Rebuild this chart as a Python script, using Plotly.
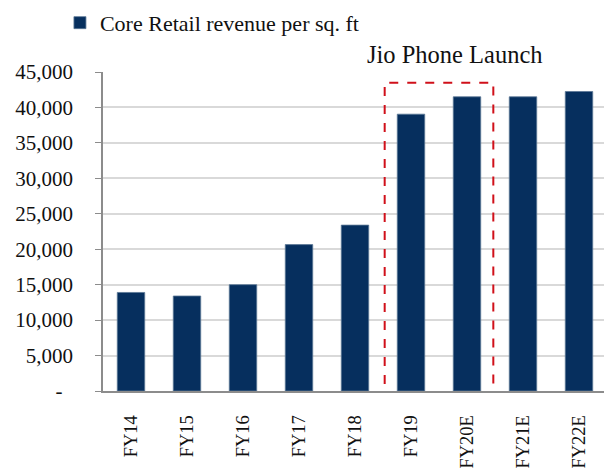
import plotly.graph_objects as go

categories = ["FY14", "FY15", "FY16", "FY17", "FY18", "FY19", "FY20E", "FY21E", "FY22E"]
revenue_per_sqft = [13900, 13400, 15000, 20650, 23400, 39050, 41500, 41500, 42250]
series_name = "Core Retail revenue per sq. ft"
annotation_text = "Jio Phone Launch"
y_tickvals = [0, 5000, 10000, 15000, 20000, 25000, 30000, 35000, 40000, 45000]
y_ticktext = ["-\u00a0\u00a0", "5,000", "10,000", "15,000", "20,000", "25,000",
              "30,000", "35,000", "40,000", "45,000"]

FONT = "Liberation Serif"
NAVY = "#062f5e"

fig = go.Figure()
fig.add_trace(go.Bar(
    x=categories, y=revenue_per_sqft, name=series_name,
    marker=dict(color=NAVY, line=dict(color="#5b7796", width=0.8)),
    showlegend=True,
))

# dashed highlight box around FY19 - FY20E
fig.add_shape(type="rect", xref="x", yref="y",
              x0=4.53, x1=6.47, y0=-1400, y1=43500,
              line=dict(color="#d0101a", width=2, dash="dash"),
              fillcolor="rgba(0,0,0,0)", layer="above")
fig.add_annotation(text=annotation_text, xref="x", yref="paper",
                   x=5.79, y=1.056, yanchor="middle", showarrow=False,
                   font=dict(family=FONT, size=24.5, color="#111111"))

# the page adds an 8px body margin, so the figure is 8px smaller on each axis
fig.update_layout(
    width=604, height=464,
    margin=dict(l=95, r=5, t=64, b=81, autoexpand=False),
    paper_bgcolor="white", plot_bgcolor="white",
    font=dict(family=FONT, size=19, color="#222222"),
    bargap=0.51,
    showlegend=True,
    legend=dict(orientation="h", xref="container", yref="container",
                x=0.086, y=0.968, xanchor="left", yanchor="middle",
                font=dict(family=FONT, size=22, color="#111111"),
                itemwidth=30, tracegroupgap=0, bgcolor="rgba(0,0,0,0)"),
    xaxis=dict(type="category", tickangle=-90, showgrid=False,
               showline=True, linecolor="#8c8c8c", linewidth=1.5,
               ticks="", ticklabelstandoff=15, automargin=False,
               tickfont=dict(family=FONT, size=18.5, color="#111111")),
    yaxis=dict(range=[0, 45000], tickvals=y_tickvals, ticktext=y_ticktext,
               showgrid=True, gridcolor="#d9d9d9", gridwidth=1.5,
               showline=True, linecolor="#8c8c8c", linewidth=1.5,
               ticks="outside", ticklen=6, tickcolor="#8c8c8c",
               ticklabelstandoff=18, zeroline=False, automargin=False,
               tickfont=dict(family=FONT, size=21, color="#111111")),
)

fig.write_html("out.html")
